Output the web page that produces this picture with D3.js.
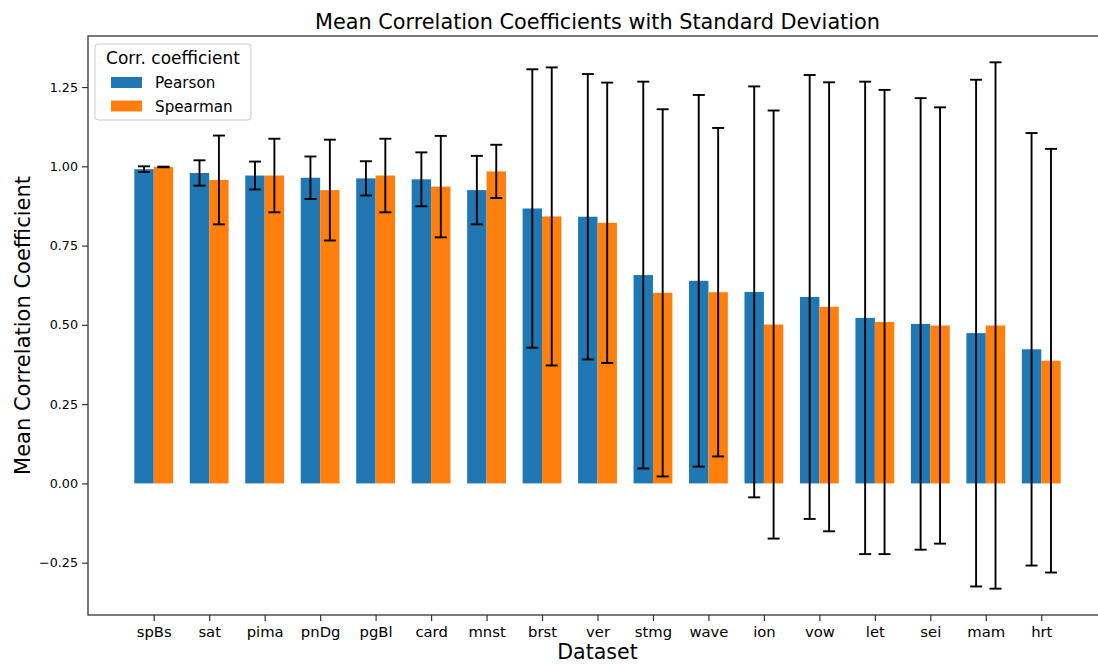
<!DOCTYPE html>
<html>
<head>
<meta charset="utf-8">
<script src="https://cdn.jsdelivr.net/npm/d3@7"></script>
<style>
  html, body { margin: 0; padding: 0; background: #fff; }
  svg { display: block; font-family: "DejaVu Sans", sans-serif; }
</style>
</head>
<body>
<svg id="chart" width="1098" height="664"></svg>
<script>
// Datasets and their mean correlation coefficients with standard deviations
const datasets = ["spBs", "sat", "pima", "pnDg", "pgBl", "card", "mnst", "brst", "ver",
                  "stmg", "wave", "ion", "vow", "let", "sei", "mam", "hrt"];
const pearsonMean = [0.991, 0.979, 0.971, 0.964, 0.962, 0.959, 0.925, 0.867, 0.841,
                     0.657, 0.639, 0.604, 0.588, 0.522, 0.503, 0.474, 0.423];
const pearsonStd  = [0.009, 0.040, 0.044, 0.067, 0.054, 0.085, 0.108, 0.439, 0.450,
                     0.610, 0.586, 0.648, 0.700, 0.745, 0.712, 0.799, 0.682];
const spearmanMean = [0.998, 0.957, 0.971, 0.925, 0.971, 0.936, 0.984, 0.842, 0.822,
                      0.601, 0.603, 0.501, 0.557, 0.509, 0.498, 0.498, 0.387];
const spearmanStd  = [0.001, 0.140, 0.116, 0.159, 0.116, 0.160, 0.084, 0.470, 0.442,
                      0.579, 0.518, 0.675, 0.708, 0.732, 0.688, 0.830, 0.668];
const yTicks = [-0.25, 0.00, 0.25, 0.50, 0.75, 1.00, 1.25];

const series = [
  { name: "Pearson",  color: "#1f77b4", mean: pearsonMean,  std: pearsonStd,  offset: -0.175 },
  { name: "Spearman", color: "#ff7f0e", mean: spearmanMean, std: spearmanStd, offset:  0.175 }
];

const svg = d3.select("#chart");
const plot = { left: 88, right: 1107, top: 36, bottom: 615 };
const barW = 0.35;

// x: category index, with 5% margin around the bar extents
const xMin = -barW, xMax = datasets.length - 1 + barW;
const xPad = (xMax - xMin) * 0.05;
const x = d3.scaleLinear().domain([xMin - xPad, xMax + xPad]).range([plot.left, plot.right]);

// y: padded 5% around the error bar extents
let lo = 0, hi = 0;
series.forEach(s => s.mean.forEach((m, i) => {
  lo = Math.min(lo, m - s.std[i]);
  hi = Math.max(hi, m + s.std[i]);
}));
const yPad = (hi - lo) * 0.05;
const y = d3.scaleLinear().domain([lo - yPad, hi + yPad]).range([plot.bottom, plot.top]);

// bars
series.forEach(s => {
  svg.append("g").selectAll("rect")
    .data(datasets)
    .join("rect")
    .attr("x", (d, i) => x(i + s.offset - barW / 2))
    .attr("width", (d, i) => x(i + s.offset + barW / 2) - x(i + s.offset - barW / 2))
    .attr("y", (d, i) => y(Math.max(0, s.mean[i])))
    .attr("height", (d, i) => Math.abs(y(s.mean[i]) - y(0)))
    .attr("fill", s.color);
});

// error bars with caps
const cap = 6;
series.forEach(s => {
  const g = svg.append("g").attr("stroke", "#000").attr("stroke-width", 1.9).attr("fill", "none");
  datasets.forEach((d, i) => {
    const cx = x(i + s.offset);
    const y1 = y(s.mean[i] + s.std[i]);
    const y2 = y(s.mean[i] - s.std[i]);
    g.append("line").attr("x1", cx).attr("x2", cx).attr("y1", y1).attr("y2", y2);
    g.append("line").attr("x1", cx - cap).attr("x2", cx + cap).attr("y1", y1).attr("y2", y1);
    g.append("line").attr("x1", cx - cap).attr("x2", cx + cap).attr("y1", y2).attr("y2", y2);
  });
});

// axes
const xAxis = d3.axisBottom(x)
  .tickValues(d3.range(datasets.length))
  .tickFormat(i => datasets[i])
  .tickSize(6).tickPadding(5).tickSizeOuter(0);
const yAxis = d3.axisLeft(y)
  .tickValues(yTicks)
  .tickFormat(v => d3.format(".2f")(v).replace("-", "\u2212"))
  .tickSize(6).tickPadding(4).tickSizeOuter(0);

const gx = svg.append("g").attr("transform", `translate(0,${plot.bottom})`).call(xAxis);
gx.selectAll("text").attr("font-size", 14.8).attr("fill", "#000").attr("font-family", "DejaVu Sans");
const gy = svg.append("g").attr("transform", `translate(${plot.left},0)`).call(yAxis);
gy.selectAll("text").attr("font-size", 12.7).attr("fill", "#000").attr("font-family", "DejaVu Sans");
svg.selectAll(".domain").remove();
svg.selectAll(".tick line").attr("stroke", "#333").attr("stroke-width", 1.2);

// frame
svg.append("rect")
  .attr("x", plot.left).attr("y", plot.top)
  .attr("width", plot.right - plot.left).attr("height", plot.bottom - plot.top)
  .attr("fill", "none").attr("stroke", "#333").attr("stroke-width", 1.3);

// titles
svg.append("text")
  .attr("x", (plot.left + plot.right) / 2).attr("y", 29)
  .attr("text-anchor", "middle").attr("font-size", 20.8).attr("fill", "#000")
  .text("Mean Correlation Coefficients with Standard Deviation");
svg.append("text")
  .attr("x", (plot.left + plot.right) / 2).attr("y", 659)
  .attr("text-anchor", "middle").attr("font-size", 20.6).attr("fill", "#000")
  .text("Dataset");
svg.append("text")
  .attr("transform", `translate(29.5,${(plot.top + plot.bottom) / 2}) rotate(-90)`)
  .attr("text-anchor", "middle").attr("font-size", 21).attr("fill", "#000")
  .text("Mean Correlation Coefficient");

// legend
const lg = svg.append("g");
lg.append("rect")
  .attr("x", 95).attr("y", 44).attr("width", 156).attr("height", 76).attr("rx", 3)
  .attr("fill", "#fff").attr("fill-opacity", 0.8).attr("stroke", "#ccc");
lg.append("text")
  .attr("x", 173).attr("y", 64).attr("text-anchor", "middle")
  .attr("font-size", 17).attr("fill", "#000").text("Corr. coefficient");
series.forEach((s, k) => {
  const cy = 82.5 + k * 23.5;
  lg.append("rect").attr("x", 111).attr("y", cy - 5.5).attr("width", 31).attr("height", 11).attr("fill", s.color);
  lg.append("text").attr("x", 155).attr("y", cy + 5.5)
    .attr("font-size", 15.2).attr("fill", "#000").text(s.name);
});
</script>
</body>
</html>
